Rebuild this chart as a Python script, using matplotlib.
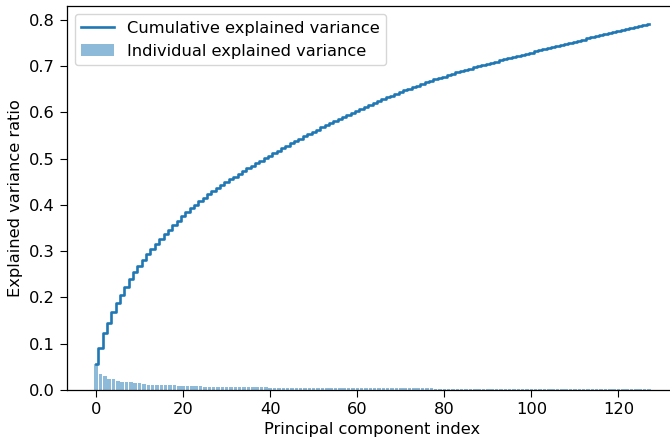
import numpy as np
import matplotlib
matplotlib.use("Agg")
import matplotlib.pyplot as plt

# individual explained variance ratio per principal component
var_exp = [
    0.0562, 0.0353, 0.0310, 0.0231, 0.0230, 0.0192, 0.0180, 0.0174, 0.0166, 0.0142,
    0.0142, 0.0132, 0.0116, 0.0113, 0.0111, 0.0108, 0.0104, 0.0100, 0.0099, 0.0095,
    0.0093,
    0.0088, 0.0084, 0.0080, 0.0077, 0.0074, 0.0071, 0.0069, 0.0067, 0.0065, 0.0063,
    0.0062, 0.0061, 0.0060, 0.0059, 0.0058, 0.0057, 0.0056, 0.0055, 0.0055, 0.0054,
    0.0053, 0.0053, 0.0052, 0.0052, 0.0051, 0.0051, 0.0050, 0.0050, 0.0049, 0.0049,
    0.0048, 0.0048, 0.0047, 0.0047, 0.0046,
    0.0046, 0.0045, 0.0045, 0.0044, 0.0044,
    0.0043, 0.0042, 0.0042, 0.0041, 0.0040, 0.0040, 0.0039, 0.0038, 0.0038, 0.0037,
    0.0036, 0.0036, 0.0035, 0.0035, 0.0034, 0.0033, 0.0033, 0.0032, 0.0032, 0.0031,
    0.0031, 0.0030, 0.0029, 0.0027,
    0.0027, 0.0027, 0.0026, 0.0026, 0.0026, 0.0026, 0.0025, 0.0025, 0.0025, 0.0025,
    0.0024, 0.0024, 0.0024, 0.0024, 0.0024, 0.0024, 0.0024, 0.0024, 0.0024, 0.0024,
    0.0024, 0.0024, 0.0023, 0.0023, 0.0023, 0.0023, 0.0023, 0.0023, 0.0023, 0.0023,
    0.0023, 0.0023, 0.0022, 0.0022, 0.0022, 0.0022, 0.0022, 0.0022,
    0.0021, 0.0021, 0.0021, 0.0021, 0.0021,
]
cum_var_exp = np.cumsum(var_exp)
idx = np.arange(len(var_exp))

plt.rcParams['font.size'] = 11.7
plt.rcParams['xtick.major.size'] = 5
plt.rcParams['ytick.major.size'] = 5
plt.rcParams['axes.linewidth'] = 0.9

fig = plt.figure(figsize=(6.7, 4.41), dpi=100)
# axes runs past the right edge of the figure, as in the reference crop
ax = fig.add_axes([66.5 / 670, 51 / 441, 612 / 670, 384 / 441])

ax.bar(idx, var_exp, alpha=0.5, align='center', label='Individual explained variance')
ax.step(idx, cum_var_exp, where='mid', linewidth=1.9, label='Cumulative explained variance')
ax.set_ylabel('Explained variance ratio')
ax.set_xlabel('Principal component index')
ax.legend(loc='best')
ax.spines['right'].set_visible(False)

fig.savefig('out.png', dpi=100)
